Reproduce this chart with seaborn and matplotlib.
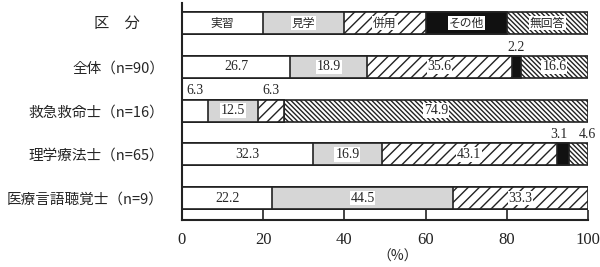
import numpy as np
import pandas as pd
import matplotlib
matplotlib.use("Agg")
import matplotlib.pyplot as plt
import seaborn as sns

# ---- data ----
categories = ["実習", "見学", "併用", "その他", "無回答"]
groups = ["全体（n=90）", "救急救命士（n=16）", "理学療法士（n=65）", "医療言語聴覚士（n=9）"]
legend_label = "区　分"
legend_widths = [20, 20, 20, 20, 20]
v_zentai = [26.7, 18.9, 35.6, 2.2, 16.6]
v_kyukyu = [6.3, 12.5, 6.3, 0.0, 74.9]
v_rigaku = [32.3, 16.9, 43.1, 3.1, 4.6]
v_gengo = [22.2, 44.5, 33.3, 0.0, 0.0]
xticks = [0, 20, 40, 60, 80, 100]

rows = [legend_label] + groups
values = [legend_widths, v_zentai, v_kyukyu, v_rigaku, v_gengo]

sns.set_theme(style="white")
plt.rcParams["font.family"] = ["Noto Sans CJK JP", "DejaVu Sans"]
plt.rcParams["hatch.linewidth"] = 1.0

styles = {
    "実習": dict(color="white", hatch=None),
    "見学": dict(color="#d6d6d6", hatch=None),
    "併用": dict(color="white", hatch="///"),
    "その他": dict(color="#111111", hatch=None),
    "無回答": dict(color="white", hatch="\\" * 7),
}

df = pd.DataFrame(values, columns=categories)
df.insert(0, "row", rows)
cum = df[categories].cumsum(axis=1)
cum["row"] = df["row"]

fig = plt.figure(figsize=(6.0, 2.67), dpi=100)
ax = fig.add_axes([182 / 600, 1 - 220 / 267, 406 / 600, 217 / 267])

for cat in reversed(categories):
    n0 = len(ax.patches)
    sns.barplot(data=cum, x=cat, y="row", order=rows, orient="h",
                color=styles[cat]["color"], saturation=1, width=0.5,
                edgecolor="#222222", linewidth=1.2, ax=ax)
    for p in ax.patches[n0:]:
        p.set_facecolor(styles[cat]["color"])
        if styles[cat]["hatch"]:
            p.set_hatch(styles[cat]["hatch"])

num_font = dict(family=["Liberation Serif", "DejaVu Serif"])
box = dict(facecolor="white", edgecolor="none", pad=0.6)

# legend row text
starts = np.cumsum([0] + legend_widths[:-1])
for i, cat in enumerate(categories):
    c = starts[i] + legend_widths[i] / 2
    ax.text(c, 0, cat, ha="center", va="center", fontsize=8.5,
            bbox=None if cat == "実習" else box, zorder=5)

# value labels
for r in range(1, len(rows)):
    vals = values[r]
    left = 0.0
    prev_small = False
    for i, v in enumerate(vals):
        small = False
        if v > 0:
            c = left + v / 2
            if v < 8:
                small = True
                nxt_small = i + 1 < len(vals) and 0 < vals[i + 1] < 8
                dx = -3 if nxt_small else (6 if prev_small else 0)
                ax.annotate(f"{v:.1f}", (c, r - 0.3), xytext=(dx, 0),
                            textcoords="offset points", ha="center",
                            va="bottom", fontsize=10, **num_font)
            else:
                ax.text(c, r, f"{v:.1f}", ha="center", va="center",
                        fontsize=10, bbox=None if i == 0 else box,
                        zorder=5, **num_font)
        prev_small = small
        left += v

ax.set_xlim(0, 100)
ax.set_ylim(4.5, -0.46)
ax.set_xticks(xticks)
ax.set_xticklabels([str(t) for t in xticks], fontsize=12, **num_font)
ax.set_yticks(range(len(rows)))
ax.set_yticklabels([""] + groups, fontsize=10.5)
ax.tick_params(axis="y", length=0, pad=13)
ax.tick_params(axis="x", direction="in", length=7.5, width=1.2,
               colors="#222222", pad=9, bottom=True)
for lab in ax.get_xticklabels():
    lab.set_color("#222222")
ax.set_xlabel("")
ax.set_ylabel("")
for s in ["top", "right"]:
    ax.spines[s].set_visible(False)
for s in ["left", "bottom"]:
    ax.spines[s].set_color("#222222")
    ax.spines[s].set_linewidth(1.5)

fig.text(117 / 600, 1 - 23 / 267, legend_label, ha="center", va="center",
         fontsize=11)
fig.text(398 / 600, 1 - 257 / 267, "（%）", ha="center", va="center",
         fontsize=10)

fig.savefig("out.png", dpi=100, facecolor="white")
